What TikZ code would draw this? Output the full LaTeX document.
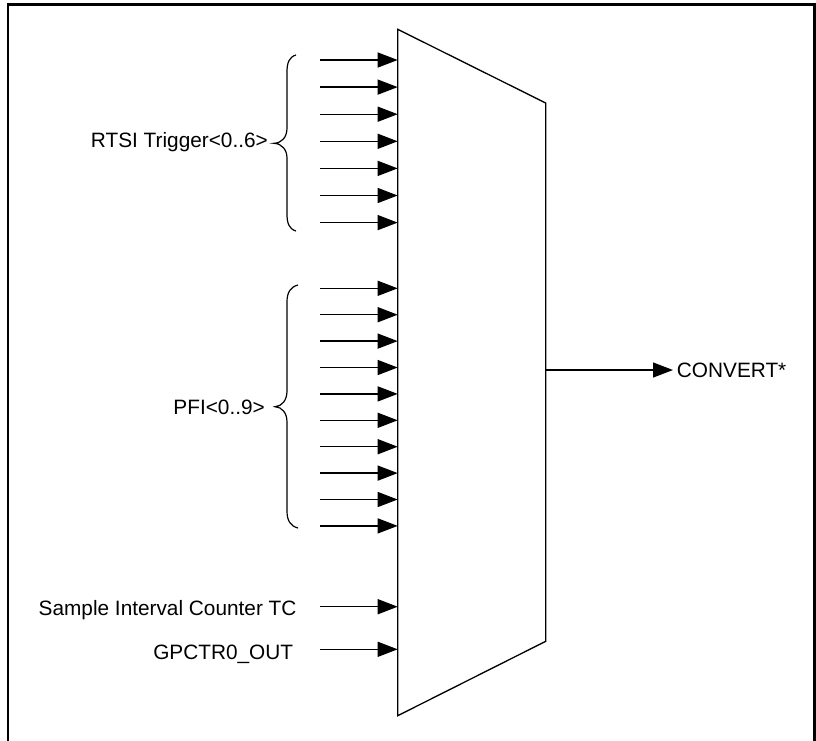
\documentclass[tikz,border=0pt]{standalone}
\usepackage{fontspec}
\setmainfont{Liberation Sans}
\usetikzlibrary{arrows.meta}
\begin{document}
\begin{tikzpicture}[x=1pt,y=-1pt,
  sig/.style={line width=1.3pt,-{Triangle[length=20pt,width=15pt]}},
  lbl/.style={inner sep=0pt,font=\fontsize{20.8}{24}\selectfont},
  brc/.style={line width=1.2pt},
  muxline/.style={line width=1.3pt,line join=miter},
  frm/.style={line width=2.5pt}]
\useasboundingbox (0,0) rectangle (816,740);
% frame (open at the bottom)
\coordinate (fBL) at (7.8,742);
\coordinate (fTL) at (7.8,4.3);
\coordinate (fTR) at (814.6,4.3);
\coordinate (fBR) at (814.6,742);
\draw[frm] (fBL) -- (fTL) -- (fTR) -- (fBR);
% multiplexer
\coordinate (mTL) at (397.7,29.3);
\coordinate (mTR) at (545.7,103);
\coordinate (mBR) at (545.7,641.3);
\coordinate (mBL) at (397.7,715.7);
\draw[muxline] (mTL) -- (mTR) -- (mBR) -- (mBL) -- cycle;
% RTSI inputs
\foreach \i in {0,...,6}{
  \pgfmathsetmacro\yy{60+27.1*\i}
  \coordinate (rs\i) at (320,\yy);
  \coordinate (re\i) at (397.7,\yy);
  \draw[sig] (rs\i) -- (re\i);
}
% PFI inputs
\foreach \i in {0,...,9}{
  \pgfmathsetmacro\yy{288.3+26.4*\i}
  \coordinate (ps\i) at (320,\yy);
  \coordinate (pe\i) at (397.7,\yy);
  \draw[sig] (ps\i) -- (pe\i);
}
% other inputs
\coordinate (ss) at (320,606.7);
\coordinate (se) at (397.7,606.7);
\draw[sig] (ss) -- (se);
\coordinate (gs) at (320,649.3);
\coordinate (ge) at (397.7,649.3);
\draw[sig] (gs) -- (ge);
% output
\coordinate (mo) at (545.7,370);
\coordinate (ct) at (673,370);
\draw[sig] (mo) -- (ct);
% braces
\draw[brc] (296,55) .. controls (289,57) and (287,63) .. (287,72) -- (287,128)
  .. controls (287,137) and (282,143) .. (274,143.3)
  .. controls (282,143.6) and (287,150) .. (287,158) -- (287,214)
  .. controls (287,223) and (289,229) .. (296,231);
\draw[brc] (298,285) .. controls (290,287) and (287,293) .. (287,302) -- (287,391)
  .. controls (287,400) and (282,406.4) .. (275,406.7)
  .. controls (282,407) and (287,413) .. (287,422) -- (287,511)
  .. controls (287,520) and (290,526) .. (298,528);
% labels
\node[lbl,anchor=base east] (rtsi) at (268,147.5) {RTSI Trigger<0..6>};
\node[lbl,anchor=base east] (pfi) at (265,414) {PFI<0..9>};
\node[lbl,anchor=base east] (sic) at (296.7,615) {Sample Interval Counter TC};
\node[lbl,anchor=base east] (gpc) at (293.3,659) {GPCTR0\_OUT};
\node[lbl,anchor=base west] (conv) at (676.7,377.3) {CONVERT*};
\end{tikzpicture}
\end{document}
